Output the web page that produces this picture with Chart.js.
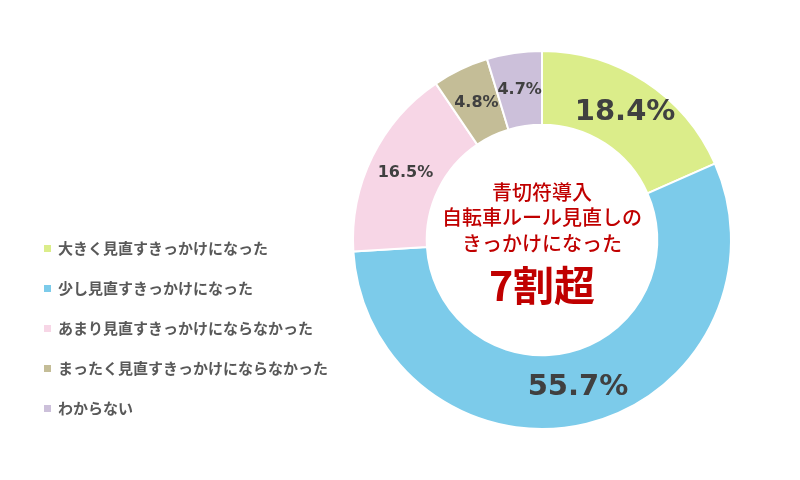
<!DOCTYPE html>
<html lang="ja">
<head>
    <meta charset="UTF-8">
    <title>青切符導入 自転車ルール見直しのきっかけ</title>
    <script src="https://cdn.jsdelivr.net/npm/chart.js"></script>
    <style>
        html, body {
            margin: 0;
            padding: 0;
            background: #ffffff;
        }
        #wrap {
            width: 800px;
            height: 480px;
        }
    </style>
</head>
<body>
    <div id="wrap">
        <canvas id="donut" width="800" height="480"></canvas>
    </div>

    <script>
        // データ
        const categories = [
            '大きく見直すきっかけになった',
            '少し見直すきっかけになった',
            'あまり見直すきっかけにならなかった',
            'まったく見直すきっかけにならなかった',
            'わからない'
        ];
        const shares = [18.4, 55.7, 16.5, 4.8, 4.7];
        const centerLines = ['青切符導入', '自転車ルール見直しの', 'きっかけになった'];
        const centerHeadline = '7割超';

        const sliceColors = ['#dbed8a', '#7ccbea', '#f7d6e6', '#c4bd97', '#ccc0da'];

        // ラベル・中央テキスト・凡例
        const donutText = {
            id: 'donutText',
            afterDatasetsDraw(chart) {
                const ctx = chart.ctx;
                const meta = chart.getDatasetMeta(0);
                ctx.save();
                ctx.textAlign = 'center';
                ctx.textBaseline = 'middle';
                ctx.fillStyle = '#404040';
                meta.data.forEach((arc, i) => {
                    const p = arc.tooltipPosition();
                    const size = shares[i] > 17 ? 29 : 16;
                    ctx.font = 'bold ' + size + 'px "DejaVu Sans", sans-serif';
                    ctx.fillText(shares[i].toFixed(1) + '%', p.x, p.y);
                });

                // 中央
                const cx = meta.data[0].x;
                const cy = meta.data[0].y;
                ctx.fillStyle = '#c00000';
                ctx.font = '500 20px "Noto Sans CJK JP", sans-serif';
                centerLines.forEach((t, i) => {
                    ctx.fillText(t, cx, cy - 48 + i * 25.5);
                });
                ctx.font = 'bold 41px "Noto Sans CJK JP", sans-serif';
                ctx.fillText(centerHeadline, cx, cy + 45);

                // 凡例
                ctx.textAlign = 'left';
                ctx.font = 'bold 15px "Noto Sans CJK JP", sans-serif';
                categories.forEach((c, i) => {
                    const y = 248 + i * 40;
                    ctx.fillStyle = sliceColors[i];
                    ctx.fillRect(44, y - 3, 7, 7);
                    ctx.fillStyle = '#595959';
                    ctx.fillText(c, 58, y);
                });
                ctx.restore();
            }
        };

        new Chart(document.getElementById('donut'), {
            type: 'doughnut',
            data: {
                labels: categories,
                datasets: [{
                    data: shares,
                    backgroundColor: sliceColors,
                    borderColor: '#ffffff',
                    borderWidth: 2
                }]
            },
            options: {
                responsive: false,
                animation: false,
                cutout: '61%',
                layout: {
                    padding: { left: 352, right: 68, top: 50, bottom: 50 }
                },
                plugins: {
                    legend: { display: false },
                    tooltip: { enabled: false }
                }
            },
            plugins: [donutText]
        });
    </script>
</body>
</html>
